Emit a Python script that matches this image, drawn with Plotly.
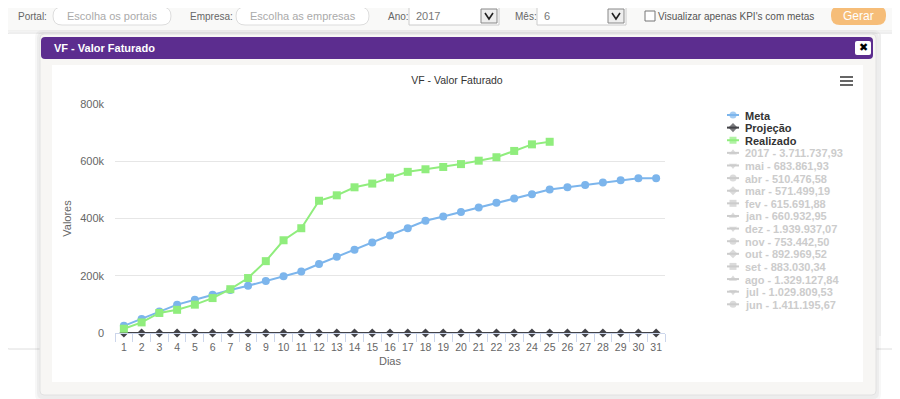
import plotly.graph_objects as go

# The page body adds an 8px margin around the figure, so the figure is made
# 8px smaller than the window and page pixels are converted with OFF.
OFF = 8
W, H = 900 - OFF, 399 - OFF

# ---------------- data ----------------
dias = list(range(1, 32))
meta = [25000, 49000, 75000, 99000, 116000, 134000, 150000, 165000, 182000, 198000,
        215000, 241000, 266000, 291000, 316000, 341000, 366000, 392000, 407000, 423000,
        438000, 455000, 470000, 485000, 501000, 509000, 517000, 526000, 534000, 541000, 541000]
projecao = [0, 0, 0, 0, 0, 0, 0, 0, 0, 0, 0, 0, 0, 0, 0, 0, 0, 0, 0, 0,
            0, 0, 0, 0, 0, 0, 0, 0, 0, 0, 0]
realizado = [15000, 37000, 70000, 81000, 99000, 122000, 153000, 192000, 251000, 324000,
             366000, 462000, 481000, 509000, 522000, 543000, 563000, 572000, 580000, 590000,
             602000, 614000, 636000, 659000, 668000]
y_tickvals = [0, 200000, 400000, 600000, 800000]
y_ticktext = ["0", "200k", "400k", "600k", "800k"]
hidden_names = ["2017 - 3.711.737,93", "mai - 683.861,93", "abr - 510.476,58", "mar - 571.499,19",
                "fev - 615.691,88", "jan - 660.932,95", "dez - 1.939.937,07", "nov - 753.442,50",
                "out - 892.969,52", "set - 883.030,34", "ago - 1.329.127,84", "jul - 1.029.809,53",
                "jun - 1.411.195,67"]

C_META, C_PROJ, C_REAL, C_HID = "#7cb5ec", "#434348", "#90ed7d", "#cccccc"
FONT = "Liberation Sans, Arial, sans-serif"


def px(x):
    return (x - OFF) / W


def py(y):
    return 1 - (y - OFF) / H


shapes = []
annots = []


def rrect(x0, y0, x1, y1, fill, line=None, lw=1, r=0):
    ln = dict(color=line or "rgba(0,0,0,0)", width=lw if line else 0)
    if r <= 0:
        shapes.append(dict(type="rect", xref="paper", yref="paper", layer="below",
                           x0=px(x0), x1=px(x1), y0=py(y0), y1=py(y1), fillcolor=fill, line=ln))
        return
    p = (f"M{px(x0 + r)},{py(y0)} L{px(x1 - r)},{py(y0)} Q{px(x1)},{py(y0)} {px(x1)},{py(y0 + r)} "
         f"L{px(x1)},{py(y1 - r)} Q{px(x1)},{py(y1)} {px(x1 - r)},{py(y1)} "
         f"L{px(x0 + r)},{py(y1)} Q{px(x0)},{py(y1)} {px(x0)},{py(y1 - r)} "
         f"L{px(x0)},{py(y0 + r)} Q{px(x0)},{py(y0)} {px(x0 + r)},{py(y0)} Z")
    shapes.append(dict(type="path", xref="paper", yref="paper", layer="below", path=p,
                       fillcolor=fill, line=ln))


def hline(x0, x1, y, color, w=1, layer="below"):
    shapes.append(dict(type="line", xref="paper", yref="paper", layer=layer,
                       x0=px(x0), x1=px(x1), y0=py(y), y1=py(y), line=dict(color=color, width=w)))


def vline(x, y0, y1, color, w=1):
    shapes.append(dict(type="line", xref="paper", yref="paper", layer="below",
                       x0=px(x), x1=px(x), y0=py(y0), y1=py(y1), line=dict(color=color, width=w)))


def text(x, y, s, size=12, color="#666", family=FONT, anchor="left"):
    annots.append(dict(xref="paper", yref="paper", x=px(x), y=py(y), text=s, showarrow=False,
                       xanchor=anchor, yanchor="middle", font=dict(size=size, color=color, family=family)))


# ---------------- page background / toolbar ----------------
rrect(3, 3, 910, 31, "#f9f9f8", "#e8e8e8", 1, 3)
text(16, 16.5, "Portal:", 10, "#666")
rrect(53, 7, 171, 25, "#ffffff", "#dddddd", 1, 9)
text(112, 16.5, "Escolha os portais", 11, "#aaa", FONT, "center")
text(188, 16.5, "Empresa:", 10, "#666")
rrect(236, 7, 369, 25, "#ffffff", "#dddddd", 1, 9)
text(302.5, 16.5, "Escolha as empresas", 11, "#aaa", FONT, "center")
text(386, 16.5, "Ano:", 10, "#666")
rrect(409, 7, 499, 25, "#ffffff", "#cccccc", 1)
text(414, 16.5, "2017", 11, "#777")
rrect(481, 9, 497, 23, "#eeeeee", "#888888", 1)
text(513, 16.5, "Mês:", 10, "#666")
rrect(537, 7, 626, 25, "#ffffff", "#cccccc", 1)
text(542, 16.5, "6", 11, "#777")
rrect(608, 9, 624, 23, "#eeeeee", "#888888", 1)
for bx in (481, 608):
    shapes.append(dict(type="path", xref="paper", yref="paper", layer="above",
                       path=f"M{px(bx + 4)},{py(13)} L{px(bx + 8)},{py(19)} L{px(bx + 12)},{py(13)}",
                       line=dict(color="#222", width=1.6)))
rrect(645, 11, 655, 21, "#ffffff", "#777777", 1)
text(656, 16.5, "Visualizar apenas KPI's com metas", 10, "#555")
rrect(831, 6, 886, 25, "#f6bd78", None, 0, 9)
text(858.5, 16, "Gerar", 12, "#ffffff", FONT, "center")

# panel behind the modal
rrect(5, 33, 915, 349, "#ffffff", "#dedede", 1, 4)
vline(880, 33, 336, "#ececec")

# ---------------- modal ----------------
rrect(35, 30, 881, 402, "rgba(0,0,0,0.03)", None, 0, 8)
rrect(37, 32, 879, 399, "rgba(0,0,0,0.04)", None, 0, 6)
rrect(40, 34, 876, 395, "#f7f6f4", "#e2e2e2", 1, 4)
rrect(41, 37, 873, 59, "#5c2d8f", None, 0, 4)
text(52, 48, "<b>VF - Valor Faturado</b>", 11, "#ffffff", FONT)
rrect(855, 41, 871, 55, "#ffffff", None, 0, 2)
text(863, 48, "✖", 11, "#000000", "DejaVu Sans, sans-serif", "center")
rrect(52, 65, 863, 382, "#ffffff")
for yy in (77, 81, 85):
    hline(840, 853, yy, "#666666", 2)

# ---------------- chart traces ----------------
fig = go.Figure()
fig.add_trace(go.Scatter(x=dias, y=meta, name="Meta", mode="lines+markers", cliponaxis=False,
                         line=dict(color=C_META, width=2),
                         marker=dict(symbol="circle", size=8, color=C_META, line=dict(width=0))))
fig.add_trace(go.Scatter(x=dias, y=projecao, name="Projeção", mode="lines+markers", cliponaxis=False,
                         line=dict(color=C_PROJ, width=2),
                         marker=dict(symbol="diamond", size=7, color=C_PROJ, line=dict(width=0))))
fig.add_trace(go.Scatter(x=dias[:len(realizado)], y=realizado, name="Realizado", mode="lines+markers",
                         cliponaxis=False, line=dict(color=C_REAL, width=2),
                         marker=dict(symbol="square", size=8, color=C_REAL, line=dict(width=0))))

# ---------------- legend (custom, compact like the original) ----------------
legend_names = ["Meta", "Projeção", "Realizado"] + hidden_names
legend_colors = [C_META, C_PROJ, C_REAL] + [C_HID] * len(hidden_names)
sym_cycle = ["circle", "diamond", "square", "triangle-up", "triangle-down"]
leg_top, leg_step = 115, 12.62
for i, (nm, col) in enumerate(zip(legend_names, legend_colors)):
    ry = leg_top + leg_step * i
    fig.add_trace(go.Scatter(x=[727, 733, 739], y=[ry, ry, ry], xaxis="x2", yaxis="y2",
                             mode="lines+markers", showlegend=False, hoverinfo="skip",
                             cliponaxis=False, line=dict(color=col, width=2),
                             marker=dict(symbol=sym_cycle[i % 5], size=[0, 7, 0], color=col,
                                         line=dict(width=0))))
    text(743, ry + 0.5, f"<b>{nm}</b>", 11, "#333333" if i < 3 else C_HID, FONT)

fig.update_layout(
    width=W, height=H, autosize=False,
    margin=dict(l=0, r=0, t=0, b=0, pad=0, autoexpand=False),
    paper_bgcolor="#ffffff", plot_bgcolor="rgba(0,0,0,0)",
    showlegend=False,
    font=dict(family=FONT, size=11, color="#666666"),
    title=dict(text="VF - Valor Faturado", x=px(457), y=py(80), xanchor="center", yanchor="middle",
               xref="paper", yref="paper", automargin=False,
               font=dict(size=10.5, color="#333333", family=FONT)),
    xaxis=dict(domain=[px(115), px(665)], type="category", anchor="y", range=[-0.5, 30.5],
               autorange=False, automargin=False, tickangle=0, ticklabelstandoff=4,
               ticks="outside", tickson="boundaries", ticklen=8, tickcolor="#ccd6eb", tickwidth=1,
               showline=True, linecolor="#ccd6eb", linewidth=1, showgrid=False, zeroline=False,
               tickfont=dict(size=10.5, color="#666666"),
               title=dict(text="Dias", font=dict(size=11, color="#666666"), standoff=5)),
    yaxis=dict(domain=[py(333), py(104)], range=[0, 800000], autorange=False, anchor="x",
               automargin=False,
               tickvals=y_tickvals, ticktext=y_ticktext, ticks="", ticklabelstandoff=10,
               showgrid=True, gridcolor="#e6e6e6", gridwidth=1, zeroline=False, showline=False,
               tickfont=dict(size=11, color="#666666"),
               title=dict(text="Valores", font=dict(size=11, color="#666666"), standoff=6)),
    xaxis2=dict(domain=[0, 1], range=[OFF, W + OFF], visible=False, anchor="y2", fixedrange=True,
                automargin=False),
    yaxis2=dict(domain=[0, 1], range=[H + OFF, OFF], visible=False, anchor="x2", fixedrange=True,
                automargin=False),
    shapes=shapes,
    annotations=annots,
)

fig.write_html("out.html")
